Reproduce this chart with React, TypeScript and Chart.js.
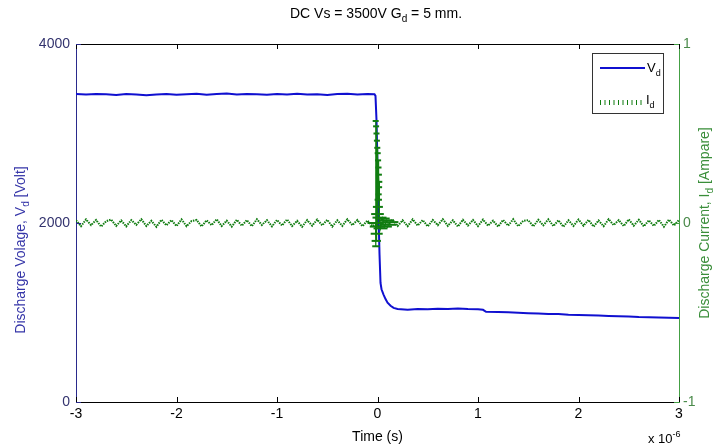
import React, { useEffect, useRef } from "react";
import { Chart, registerables } from "chart.js";

Chart.register(...registerables);

// ---------- data ----------
const timeTicks = [-3, -2, -1, 0, 1, 2, 3];
const voltTicks = [0, 2000, 4000];
const currTicks = [-1, 0, 1];

// Discharge voltage V_d (time in microseconds, value in volts)
const vTime = [
  -3.0, -2.9, -2.8, -2.7, -2.6, -2.5, -2.4, -2.3, -2.2, -2.1,
  -2.0, -1.9, -1.8, -1.7, -1.6, -1.5, -1.4, -1.3, -1.2, -1.1,
  -1.0, -0.9, -0.8, -0.7, -0.6, -0.5, -0.4, -0.3, -0.2, -0.1,
  -0.03, -0.02, -0.01, 0.0, 0.01, 0.02, 0.03, 0.04, 0.06, 0.08,
  0.1, 0.13, 0.16, 0.2, 0.3, 0.4, 0.5, 0.6, 0.7, 0.8,
  0.9, 1.0, 1.05, 1.08, 1.2, 1.3, 1.4, 1.5, 1.6, 1.7,
  1.8, 1.9, 2.0, 2.1, 2.2, 2.3, 2.4, 2.5, 2.6, 2.7,
  2.8, 2.9, 3.0,
];
const vVolt = [
  3440, 3435, 3442, 3438, 3430, 3440, 3436, 3428, 3437, 3441,
  3433, 3439, 3445, 3434, 3440, 3447, 3436, 3442, 3438, 3432,
  3440, 3437, 3443, 3435, 3439, 3431, 3440, 3444, 3436, 3441,
  3438, 3420, 3150, 2650, 2100, 1650, 1330, 1260, 1200, 1150,
  1110, 1075, 1052, 1040, 1032, 1038, 1035, 1042, 1040, 1045,
  1038, 1036, 1030, 1008, 1005, 1002, 998, 992, 988, 984,
  982, 975, 972, 968, 966, 962, 958, 955, 950, 948,
  944, 940, 938,
];

// Discharge current I_d baseline, sampled every 0.05 us from -3 us
const iStart = -3;
const iStep = 0.05;
const iAmp = [
  0.016, -0.018, 0.020, -0.012, 0.017, -0.020, 0.010, 0.019, -0.016, 0.014,
  -0.019, 0.016, -0.010, 0.021, -0.017, 0.012, -0.021, 0.018, -0.013, 0.016,
  -0.017, 0.020, -0.018, 0.011, 0.017, -0.019, 0.015, -0.012, 0.021, -0.017,
  0.013, -0.020, 0.018, -0.015, 0.016, -0.018, 0.021, -0.011, 0.016, -0.019,
  0.017, -0.014, 0.020, -0.017, 0.012, -0.021, 0.016, -0.015, 0.019, -0.013,
  0.018, -0.020, 0.015, -0.016, 0.021, -0.012, 0.017, -0.018, 0.014, -0.017,
  0.000, 0.022, -0.020, 0.019, -0.017, 0.015, -0.018, 0.020, -0.014, 0.016,
  -0.019, 0.017, -0.012, 0.021, -0.016, 0.015, -0.020, 0.018, -0.014, 0.017,
  -0.017, 0.019, -0.015, 0.013, -0.020, 0.017, -0.015, 0.021, -0.018, 0.012,
  0.016, -0.019, 0.018, -0.013, 0.020, -0.017, 0.015, -0.021, 0.015, -0.016,
  0.019, -0.015, 0.017, -0.020, 0.014, -0.018, 0.021, -0.012, 0.016, -0.017,
  0.020, -0.015, 0.018, -0.019, 0.015, -0.016, 0.017, -0.021, 0.019, -0.014,
  0.017,
];

// Discharge current burst at breakdown
const burstTime = [
  -0.02, -0.018, -0.016, -0.014, -0.012, -0.01, -0.008, -0.006, -0.004, -0.002,
  0.0, 0.002, 0.004, 0.006, 0.008, 0.01, 0.012, 0.014, 0.016, 0.018,
  0.02, 0.03, 0.05, 0.07, 0.09, 0.11, 0.13,
];
const burstAmp = [
  0.0, 0.57, -0.13, 0.54, -0.1, 0.5, -0.06, 0.46, -0.02, 0.42,
  0.05, 0.39, 0.09, 0.35, 0.13, 0.31, 0.16, 0.27, 0.2, 0.23,
  0.03, -0.03, 0.025, -0.02, 0.015, -0.01, 0.005,
];

// ---------- styles ----------
const FONT = "'Liberation Sans', Arial, sans-serif";
const BLUE = "#1010d0";
const GREEN = "#107c10";
const LEFT_AXIS = "#2a2a8c";
const LEFT_TEXT = "#33336e";
const RIGHT_AXIS = "#44a044";
const RIGHT_TEXT = "#4a8a4a";

type Part = [string, number]; // 0 normal, 1 sub, 2 sup

function drawRich(ctx: CanvasRenderingContext2D, parts: Part[], x: number, y: number, align: string, size: number, color: string) {
  const small = Math.round(size * 0.72);
  let w = 0;
  const widths = parts.map(([t, k]) => {
    ctx.font = `${k ? small : size}px ${FONT}`;
    const m = ctx.measureText(t).width;
    w += m;
    return m;
  });
  let cx = align === "center" ? x - w / 2 : align === "right" ? x - w : x;
  ctx.fillStyle = color;
  ctx.textBaseline = "alphabetic";
  ctx.textAlign = "left";
  parts.forEach(([t, k], i) => {
    ctx.font = `${k ? small : size}px ${FONT}`;
    const dy = k === 1 ? size * 0.3 : k === 2 ? -size * 0.45 : 0;
    ctx.fillText(t, cx, y + dy);
    cx += widths[i];
  });
}

const decorPlugin = {
  id: "decor",
  afterDraw(chart: any) {
    const ctx: CanvasRenderingContext2D = chart.ctx;
    const { left, right, top, bottom } = chart.chartArea;
    const sx = chart.scales.x;
    const sy = chart.scales.y;
    const sy1 = chart.scales.y1;
    ctx.save();
    // top border
    ctx.strokeStyle = "#000";
    ctx.lineWidth = 1;
    ctx.beginPath();
    ctx.moveTo(left, top + 0.5);
    ctx.lineTo(right, top + 0.5);
    ctx.stroke();
    // inward ticks on x
    timeTicks.forEach((t) => {
      const px = Math.round(sx.getPixelForValue(t)) + 0.5;
      ctx.beginPath();
      ctx.moveTo(px, bottom);
      ctx.lineTo(px, bottom - 5);
      ctx.moveTo(px, top);
      ctx.lineTo(px, top + 5);
      ctx.stroke();
    });
    // left ticks
    ctx.strokeStyle = LEFT_AXIS;
    voltTicks.forEach((v) => {
      const py = Math.round(sy.getPixelForValue(v)) + 0.5;
      ctx.beginPath();
      ctx.moveTo(left, py);
      ctx.lineTo(left + 5, py);
      ctx.stroke();
    });
    // right ticks
    ctx.strokeStyle = RIGHT_AXIS;
    currTicks.forEach((v) => {
      const py = Math.round(sy1.getPixelForValue(v)) + 0.5;
      ctx.beginPath();
      ctx.moveTo(right, py);
      ctx.lineTo(right - 5, py);
      ctx.stroke();
    });

    // title
    drawRich(ctx, [["DC Vs = 3500V G", 0], ["d", 1], [" = 5 mm.", 0]], 376, 18, "center", 14, "#000");
    // x label
    drawRich(ctx, [["Time (s)", 0]], (left + right) / 2, 441, "center", 14, "#000");
    drawRich(ctx, [["x 10", 0], ["-6", 2]], 648, 443, "left", 13, "#000");

    // left y label
    ctx.save();
    ctx.translate(25, 250);
    ctx.rotate(-Math.PI / 2);
    drawRich(ctx, [["Discharge Volage, V", 0], ["d", 1], [" [Volt]", 0]], 0, 0, "center", 14, "#3535a8");
    ctx.restore();
    // right y label
    ctx.save();
    ctx.translate(709, 223);
    ctx.rotate(-Math.PI / 2);
    drawRich(ctx, [["Discharge Current, I", 0], ["d", 1], [" [Ampare]", 0]], 0, 0, "center", 14, "#3a8e3a");
    ctx.restore();

    // legend
    const lx = 592, ly = 53, lw = 71, lh = 60;
    ctx.fillStyle = "#fff";
    ctx.fillRect(lx, ly, lw, lh);
    ctx.strokeStyle = "#333";
    ctx.lineWidth = 1;
    ctx.strokeRect(lx + 0.5, ly + 0.5, lw, lh);
    ctx.strokeStyle = BLUE;
    ctx.lineWidth = 2;
    ctx.beginPath();
    ctx.moveTo(600, 68);
    ctx.lineTo(645, 68);
    ctx.stroke();
    drawRich(ctx, [["V", 0], ["d", 1]], 647, 72, "left", 13, "#000");
    ctx.strokeStyle = GREEN;
    ctx.lineWidth = 1;
    for (let i = 0; i < 10; i++) {
      const px = 600.5 + i * 4.5;
      ctx.beginPath();
      ctx.moveTo(px, 100);
      ctx.lineTo(px, 105);
      ctx.stroke();
    }
    drawRich(ctx, [["I", 0], ["d", 1]], 646, 104, "left", 13, "#000");
    ctx.restore();
  },
};

export default function App() {
  const ref = useRef<HTMLCanvasElement | null>(null);
  useEffect(() => {
    if (!ref.current) return;
    const vData = vTime.map((t, i) => ({ x: t, y: vVolt[i] }));
    const iData = iAmp.map((a, i) => ({ x: iStart + i * iStep, y: a }));
    const bData = burstTime.map((t, i) => ({ x: t, y: burstAmp[i] }));
    const chart = new Chart(ref.current, {
      type: "line",
      data: {
        datasets: [
          {
            label: "V_d",
            data: vData,
            yAxisID: "y",
            borderColor: BLUE,
            borderWidth: 2,
            pointRadius: 0,
            tension: 0,
            order: 3,
          },
          {
            label: "I_d",
            data: iData,
            yAxisID: "y1",
            borderColor: GREEN,
            borderWidth: 2,
            borderDash: [1.5, 1],
            pointRadius: 0,
            tension: 0,
            order: 2,
          },
          {
            label: "I_d burst",
            data: bData,
            yAxisID: "y1",
            borderColor: GREEN,
            borderWidth: 1.2,
            pointStyle: "line",
            pointBorderColor: GREEN,
            pointBorderWidth: 2,
            pointRadius: (c: any) => {
              const y = c.raw ? Math.abs(c.raw.y) : 0;
              return 3 + 5 * Math.max(0, 1 - y / 0.15);
            },
            tension: 0,
            order: 1,
          },
        ],
      },
      options: {
        responsive: false,
        animation: false,
        devicePixelRatio: 1,
        layout: { padding: { top: 44, left: 0, right: 0, bottom: 0 } },
        plugins: { legend: { display: false }, tooltip: { enabled: false }, title: { display: false } },
        scales: {
          x: {
            type: "linear",
            min: -3,
            max: 3,
            afterBuildTicks: (s: any) => {
              s.ticks = timeTicks.map((v) => ({ value: v }));
            },
            afterFit: (s: any) => {
              s.height = 46;
            },
            ticks: { color: "#000", font: { family: FONT, size: 14 }, padding: 4, callback: (v: any) => String(v), maxRotation: 0 },
            grid: { display: false, drawTicks: false },
            border: { display: true, color: "#000", width: 1 },
          },
          y: {
            type: "linear",
            position: "left",
            min: 0,
            max: 4000,
            afterBuildTicks: (s: any) => {
              s.ticks = voltTicks.map((v) => ({ value: v }));
            },
            afterFit: (s: any) => {
              s.width = 76;
            },
            ticks: { color: LEFT_TEXT, font: { family: FONT, size: 14 }, padding: 6, callback: (v: any) => String(v) },
            grid: { display: false, drawTicks: false },
            border: { display: true, color: LEFT_AXIS, width: 1 },
          },
          y1: {
            type: "linear",
            position: "right",
            min: -1,
            max: 1,
            afterBuildTicks: (s: any) => {
              s.ticks = currTicks.map((v) => ({ value: v }));
            },
            afterFit: (s: any) => {
              s.width = 39;
            },
            ticks: { color: RIGHT_TEXT, font: { family: FONT, size: 14 }, padding: 4, callback: (v: any) => String(v) },
            grid: { display: false, drawTicks: false },
            border: { display: true, color: RIGHT_AXIS, width: 1 },
          },
        },
      },
      plugins: [decorPlugin],
    } as any);
    return () => chart.destroy();
  }, []);
  return (
    <div style={{ position: "absolute", left: 0, top: 0, width: 718, height: 448, background: "#fff" }}>
      <canvas ref={ref} width={718} height={448} />
    </div>
  );
}
